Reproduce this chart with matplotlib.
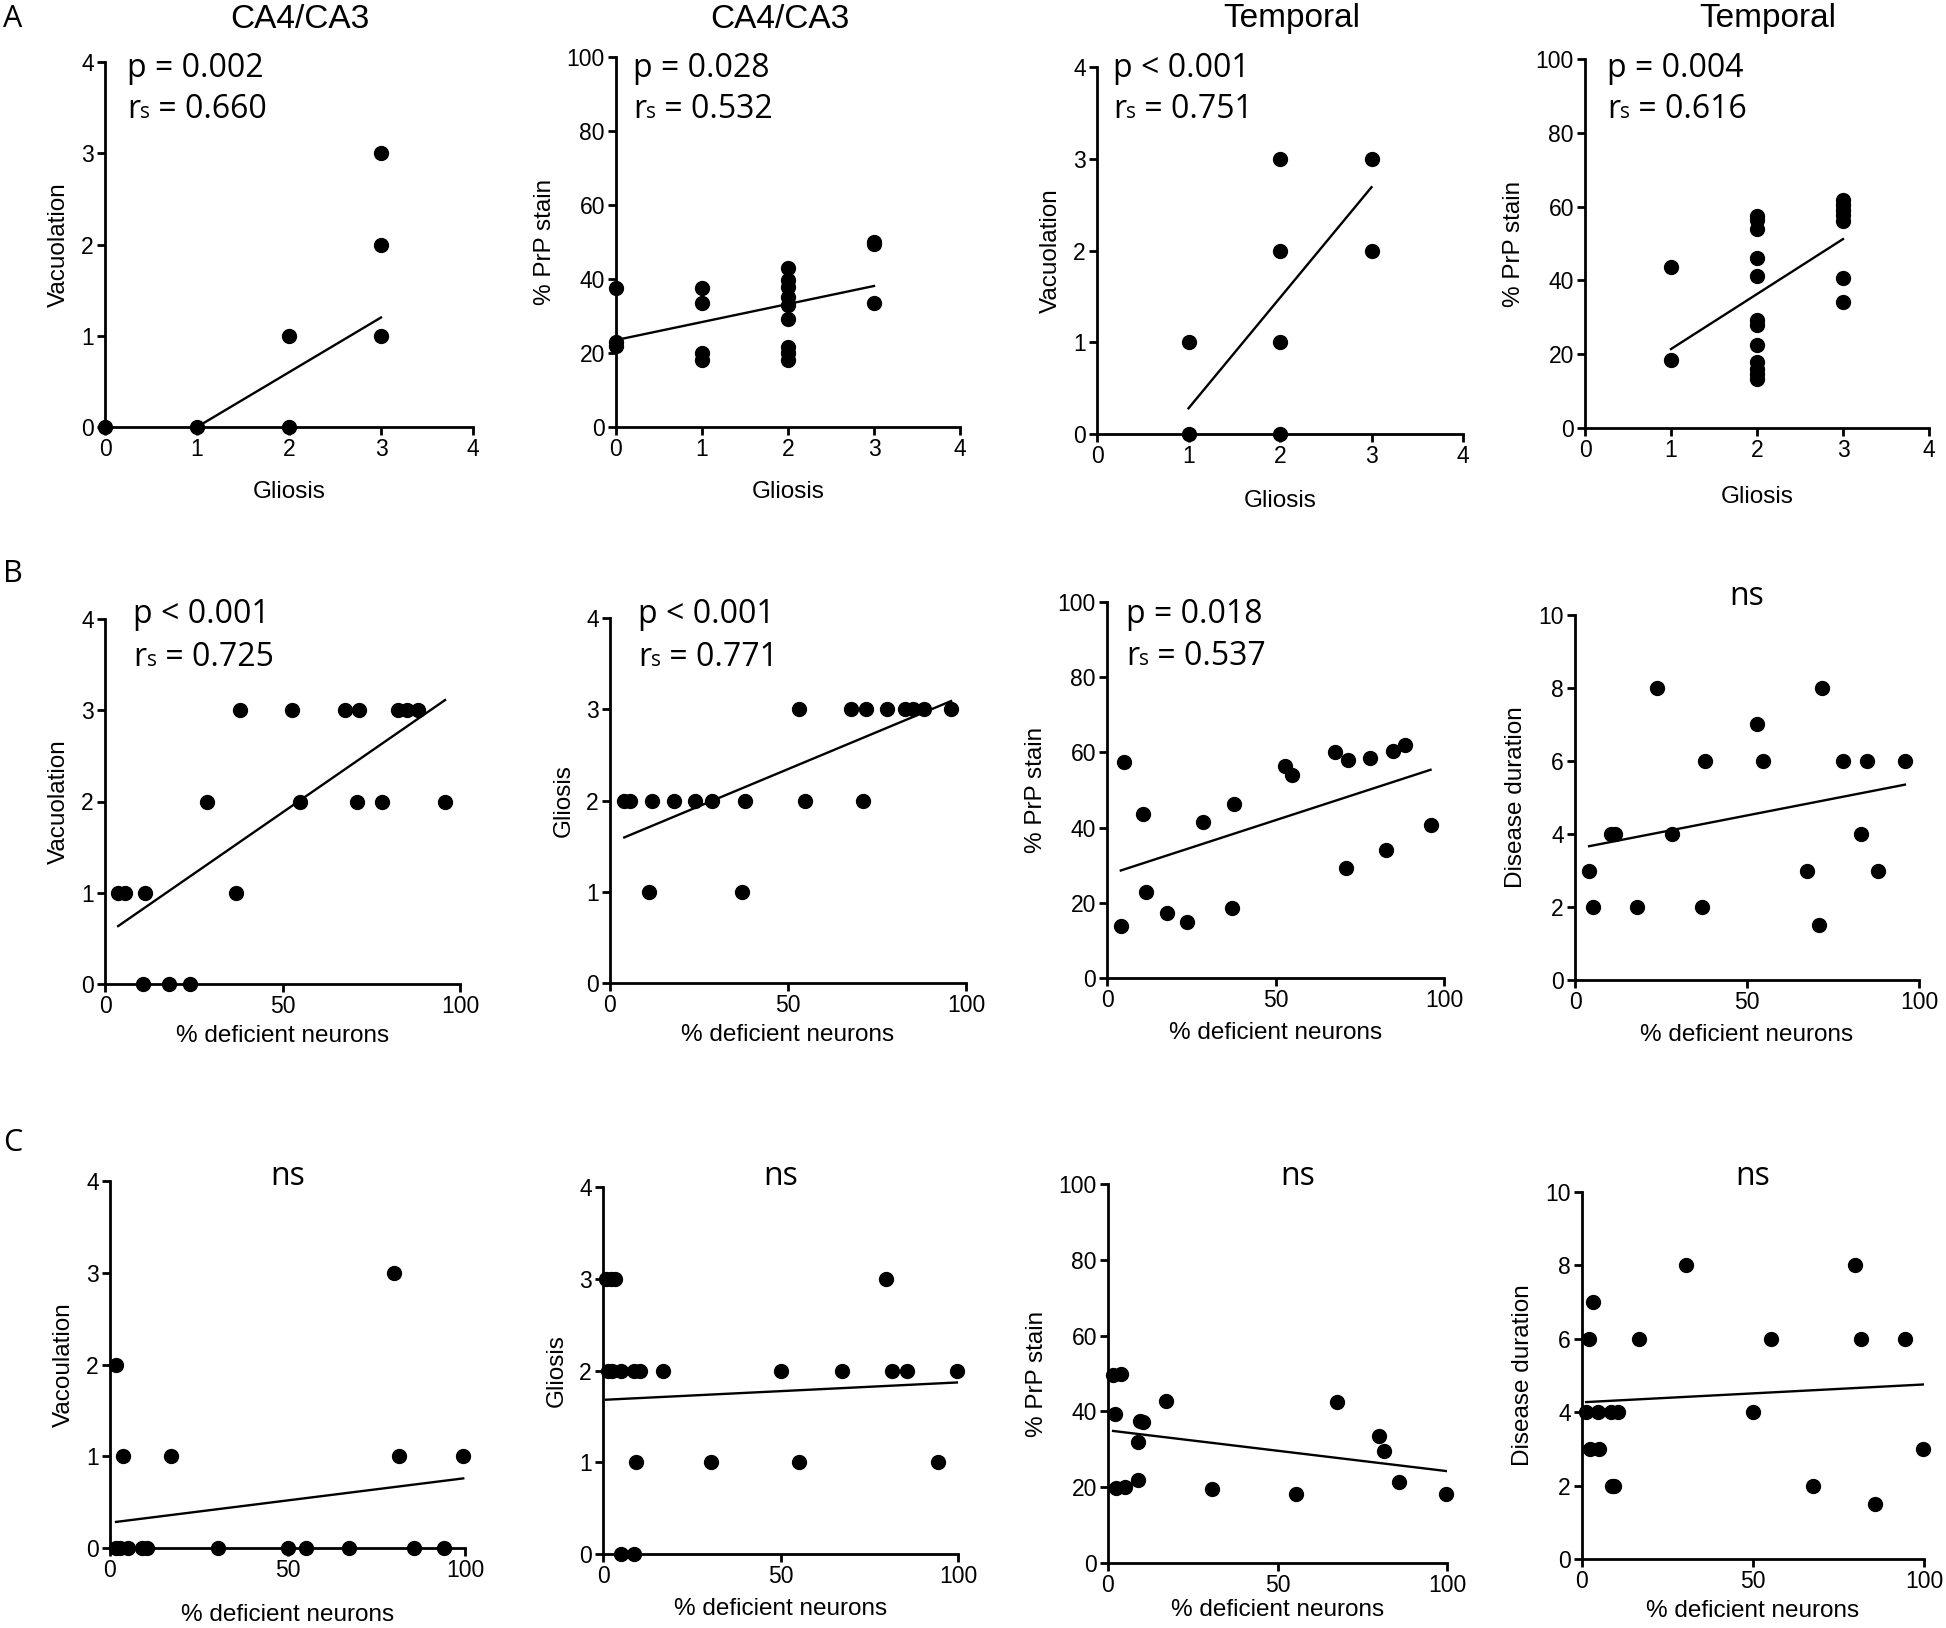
import matplotlib
matplotlib.use('Agg')
import matplotlib.pyplot as plt
from matplotlib.offsetbox import TextArea, HPacker, AnnotationBbox

plt.rcParams['font.family'] = ['Liberation Sans', 'DejaVu Sans']

# ---------------- data ----------------
# row A : gliosis score against vacuolation / % PrP stain
a1_gliosis = [0, 1, 2, 2, 3, 3, 3]
a1_vacuolation = [0, 0, 0, 1, 1, 2, 3]

a2_gliosis = [0, 0, 0, 1, 1, 1, 1, 2, 2, 2, 2, 2, 2, 2, 2, 2, 3, 3, 3]
a2_prp = [37.7, 21.9, 23.0, 37.7, 33.4, 19.9, 18.1,
          42.9, 39.7, 37.9, 35.2, 32.9, 29.3, 21.7, 20.1, 18.1,
          50.0, 49.5, 33.4]

a3_gliosis = [1, 1, 2, 2, 2, 2, 3, 3]
a3_vacuolation = [0, 1, 0, 1, 2, 3, 2, 3]

a4_gliosis = [1, 1, 2, 2, 2, 2, 2, 2, 2, 2, 2, 2, 2, 2, 3, 3, 3, 3, 3, 3, 3]
a4_prp = [43.5, 18.3,
          57.5, 56.5, 53.8, 46.2, 41.2, 29.3, 28.0, 22.6, 17.8, 16.0, 14.5, 13.3,
          61.9, 60.5, 59.2, 57.8, 56.0, 40.7, 34.1]

# row B : % deficient neurons (temporal cortex)
b1_deficient = [38.0, 52.8, 67.6, 71.6, 82.6, 85.0, 88.3,
                28.6, 54.9, 70.9, 77.9, 95.8,
                3.7, 5.5, 11.4, 36.8,
                10.7, 18.0, 23.9]
b1_vacuolation = [3, 3, 3, 3, 3, 3, 3,
                  2, 2, 2, 2, 2,
                  1, 1, 1, 1,
                  0, 0, 0]

b2_deficient = [53.1, 67.6, 71.8, 77.9, 82.9, 85.2, 88.3, 95.8,
                4.0, 5.6, 11.7, 18.0, 24.0, 28.6, 37.9, 54.8, 71.2,
                11.0, 37.2]
b2_gliosis = [3, 3, 3, 3, 3, 3, 3, 3,
              2, 2, 2, 2, 2, 2, 2, 2, 2,
              1, 1]

b3_deficient = [4.9, 4.1, 10.7, 11.5, 17.8, 23.7, 28.4, 37.8, 37.0, 52.8,
                54.8, 67.6, 71.6, 70.9, 78.0, 82.9, 84.9, 88.4, 96.0]
b3_prp = [57.4, 13.7, 43.6, 22.8, 17.3, 14.9, 41.4, 46.3, 18.6, 56.3,
          53.9, 60.0, 57.9, 29.3, 58.5, 34.1, 60.3, 61.9, 40.8]

b4_deficient = [4.1, 5.1, 10.4, 11.6, 17.9, 23.7, 28.3, 37.8, 37.0, 52.8,
                54.6, 67.5, 71.7, 70.9, 78.0, 83.0, 85.0, 88.2, 95.9]
b4_duration = [3, 2, 4, 4, 2, 8, 4, 6, 2, 7,
               6, 3, 8, 1.5, 6, 4, 6, 3, 6]

# row C : % deficient neurons (CA4/CA3)
c1_deficient = [1.7, 3.8, 17.1, 80.0, 81.4, 99.5,
                1.7, 2.8, 5.2, 8.9, 10.3, 30.5, 50.2, 55.2, 67.4, 85.7, 94.1]
c1_vacuolation = [2, 1, 1, 3, 1, 1,
                  0, 0, 0, 0, 0, 0, 0, 0, 0, 0, 0]

c2_deficient = [0.9, 2.2, 3.3, 79.6,
                1.4, 2.6, 5.2, 8.6, 10.5, 16.9, 50.2, 67.3, 81.4, 85.6, 99.7,
                9.4, 30.5, 55.2, 94.4,
                5.2, 8.6]
c2_gliosis = [3, 3, 3, 3,
              2, 2, 2, 2, 2, 2, 2, 2, 2, 2, 2,
              1, 1, 1, 1,
              0, 0]

c3_deficient = [1.5, 3.7, 2.2, 2.5, 5.1, 8.9, 8.9, 9.4, 10.3, 17.0,
                30.7, 55.4, 67.5, 80.0, 81.3, 85.7, 99.8]
c3_prp = [49.6, 50.0, 39.2, 19.9, 20.1, 32.0, 21.9, 37.4, 37.1, 42.7,
          19.4, 18.1, 42.6, 33.5, 29.6, 21.4, 18.1]

c4_deficient = [1.2, 2.1, 2.2, 3.2, 4.7, 5.1, 8.5, 10.4, 8.8, 9.3, 16.8,
                30.5, 50.0, 55.2, 67.4, 79.8, 81.6, 85.7, 94.4, 99.8]
c4_duration = [4, 6, 3, 7, 4, 3, 4, 4, 2, 2, 6,
               8, 4, 6, 2, 8, 6, 1.5, 6, 3]

# regression lines as drawn in the figure (panel order A1..C4)
fit_slope = [0.6, 4.87, 1.205, 14.9, 0.0269, 0.01628, 0.2914, 0.01837,
             0.00485, 0.0019, -0.1076, 0.00486]
fit_intercept = [-0.6, 23.5, -0.925, 6.5, 0.535, 1.53, 27.4, 3.59,
                 0.276, 1.68, 35.0, 4.27]

p_labels = ['p = 0.002', 'p = 0.028', 'p < 0.001', 'p = 0.004',
            'p < 0.001', 'p < 0.001', 'p = 0.018']
rs_labels = ['0.660', '0.532', '0.751', '0.616', '0.725', '0.771', '0.537']

# ---------------- layout ----------------
W, H = 1946, 1628
fig = plt.figure(figsize=(W / 100, H / 100), dpi=100, facecolor='white')

# axes boxes in pixels: left, top, right, bottom
boxes = [(105, 62, 473, 427), (616, 57, 960, 427), (1097, 67, 1463, 434), (1585, 59, 1929, 428),
         (105, 619, 460, 984), (610, 618, 966, 983), (1107, 602, 1444, 978), (1575, 615, 1919, 980),
         (110, 1181, 465, 1548), (603, 1187, 958, 1554), (1108, 1184, 1447, 1563), (1582, 1192, 1924, 1559)]

panels = [
    (a1_gliosis, a1_vacuolation, 'Gliosis', 'Vacuolation', 'score', 'score'),
    (a2_gliosis, a2_prp, 'Gliosis', '% PrP stain', 'score', 'pct'),
    (a3_gliosis, a3_vacuolation, 'Gliosis', 'Vacuolation', 'score', 'score'),
    (a4_gliosis, a4_prp, 'Gliosis', '% PrP stain', 'score', 'pct'),
    (b1_deficient, b1_vacuolation, '% deficient neurons', 'Vacuolation', 'pct', 'score'),
    (b2_deficient, b2_gliosis, '% deficient neurons', 'Gliosis', 'pct', 'score'),
    (b3_deficient, b3_prp, '% deficient neurons', '% PrP stain', 'pct', 'pct'),
    (b4_deficient, b4_duration, '% deficient neurons', 'Disease duration', 'pct', 'dur'),
    (c1_deficient, c1_vacuolation, '% deficient neurons', 'Vacoulation', 'pct', 'score'),
    (c2_deficient, c2_gliosis, '% deficient neurons', 'Gliosis', 'pct', 'score'),
    (c3_deficient, c3_prp, '% deficient neurons', '% PrP stain', 'pct', 'pct'),
    (c4_deficient, c4_duration, '% deficient neurons', 'Disease duration', 'pct', 'dur'),
]

ylims = {'score': ((0, 4), [0, 1, 2, 3, 4]),
         'pct': ((0, 100), [0, 20, 40, 60, 80, 100]),
         'dur': ((0, 10), [0, 2, 4, 6, 8, 10])}
xlims = {'score': ((0, 4), [0, 1, 2, 3, 4]),
         'pct': ((0, 100), [0, 50, 100])}
xlabelpads = [14, 14, 16, 17, 5, 5, 7, 7, 16, 7, 1, 5]
# stats text: x, baseline of p line, baseline of r line (axes fraction)
stat_pos = [(0.06, 0.959, 0.847), (0.05, 0.946, 0.835), (0.044, 0.973, 0.861),
            (0.064, 0.951, 0.840), (0.08, 0.989, 0.871), (0.079, 0.986, 0.868),
            (0.056, 0.944, 0.832)]
# "ns" positions: x, baseline
ns_pos = {7: (0.5, 1.027), 8: (0.5, 0.989), 9: (0.5, 1.005), 10: (0.56, 0.997), 11: (0.5, 1.019)}

stat_font = ['Open Sans', 'DejaVu Sans']
big = dict(fontsize=23, family=stat_font)
small = dict(fontsize=15, family=stat_font)

for i, (xs, ys, xlab, ylab, xkind, ykind) in enumerate(panels):
    l, t, r, b = boxes[i]
    ax = fig.add_axes([l / W, (H - b) / H, (r - l) / W, (b - t) / H])
    ax.plot(xs, ys, 'o', color='black', ms=10, clip_on=False, zorder=5)
    x0, x1 = min(xs), max(xs)
    ax.plot([x0, x1], [fit_intercept[i] + fit_slope[i] * x0, fit_intercept[i] + fit_slope[i] * x1],
            color='black', lw=1.7, zorder=4)
    (xl, xt), (yl, yt) = xlims[xkind], ylims[ykind]
    ax.set_xlim(xl)
    ax.set_ylim(yl)
    ax.set_xticks(xt)
    ax.set_yticks(yt)
    for s in ['top', 'right']:
        ax.spines[s].set_visible(False)
    for s in ['left', 'bottom']:
        ax.spines[s].set_linewidth(2)
    ax.tick_params(direction='out', length=6, width=2, labelsize=16.5, pad=2)
    ax.set_xlabel(xlab, fontsize=17.5, labelpad=xlabelpads[i])
    ax.set_ylabel(ylab, fontsize=17.5, labelpad=8)
    ax.patch.set_alpha(0)

    if i < len(p_labels):
        sx, py, ry = stat_pos[i]
        ax.text(sx, py, p_labels[i], transform=ax.transAxes, va='baseline', ha='left', **big)
        # r with a small s sitting on the baseline
        row = HPacker(children=[TextArea('r', textprops=big),
                                TextArea('s', textprops=small),
                                TextArea(' = ' + rs_labels[i], textprops=big)],
                      align='baseline', pad=0, sep=0)
        ab = AnnotationBbox(row, (sx, ry), xycoords='axes fraction', box_alignment=(0, 0),
                            frameon=False, pad=0)
        ab.xybox = (sx, ry - 0.022)
        ax.add_artist(ab)
    else:
        nx, ny = ns_pos[i]
        ax.text(nx, ny, 'ns', transform=ax.transAxes, va='baseline', ha='center', **big)

# region titles over row A
for tx, title in zip([300, 780, 1292, 1768], ['CA4/CA3', 'CA4/CA3', 'Temporal', 'Temporal']):
    fig.text(tx / W, 1 - 19 / H, title, fontsize=24, ha='center', va='center')

# panel letters
for ly, letter in zip([19, 574, 1143], ['A', 'B', 'C']):
    fig.text(3 / W, 1 - ly / H, letter, fontsize=22, family=stat_font, ha='left', va='center')

fig.savefig('out.png', dpi=100, facecolor='white')
